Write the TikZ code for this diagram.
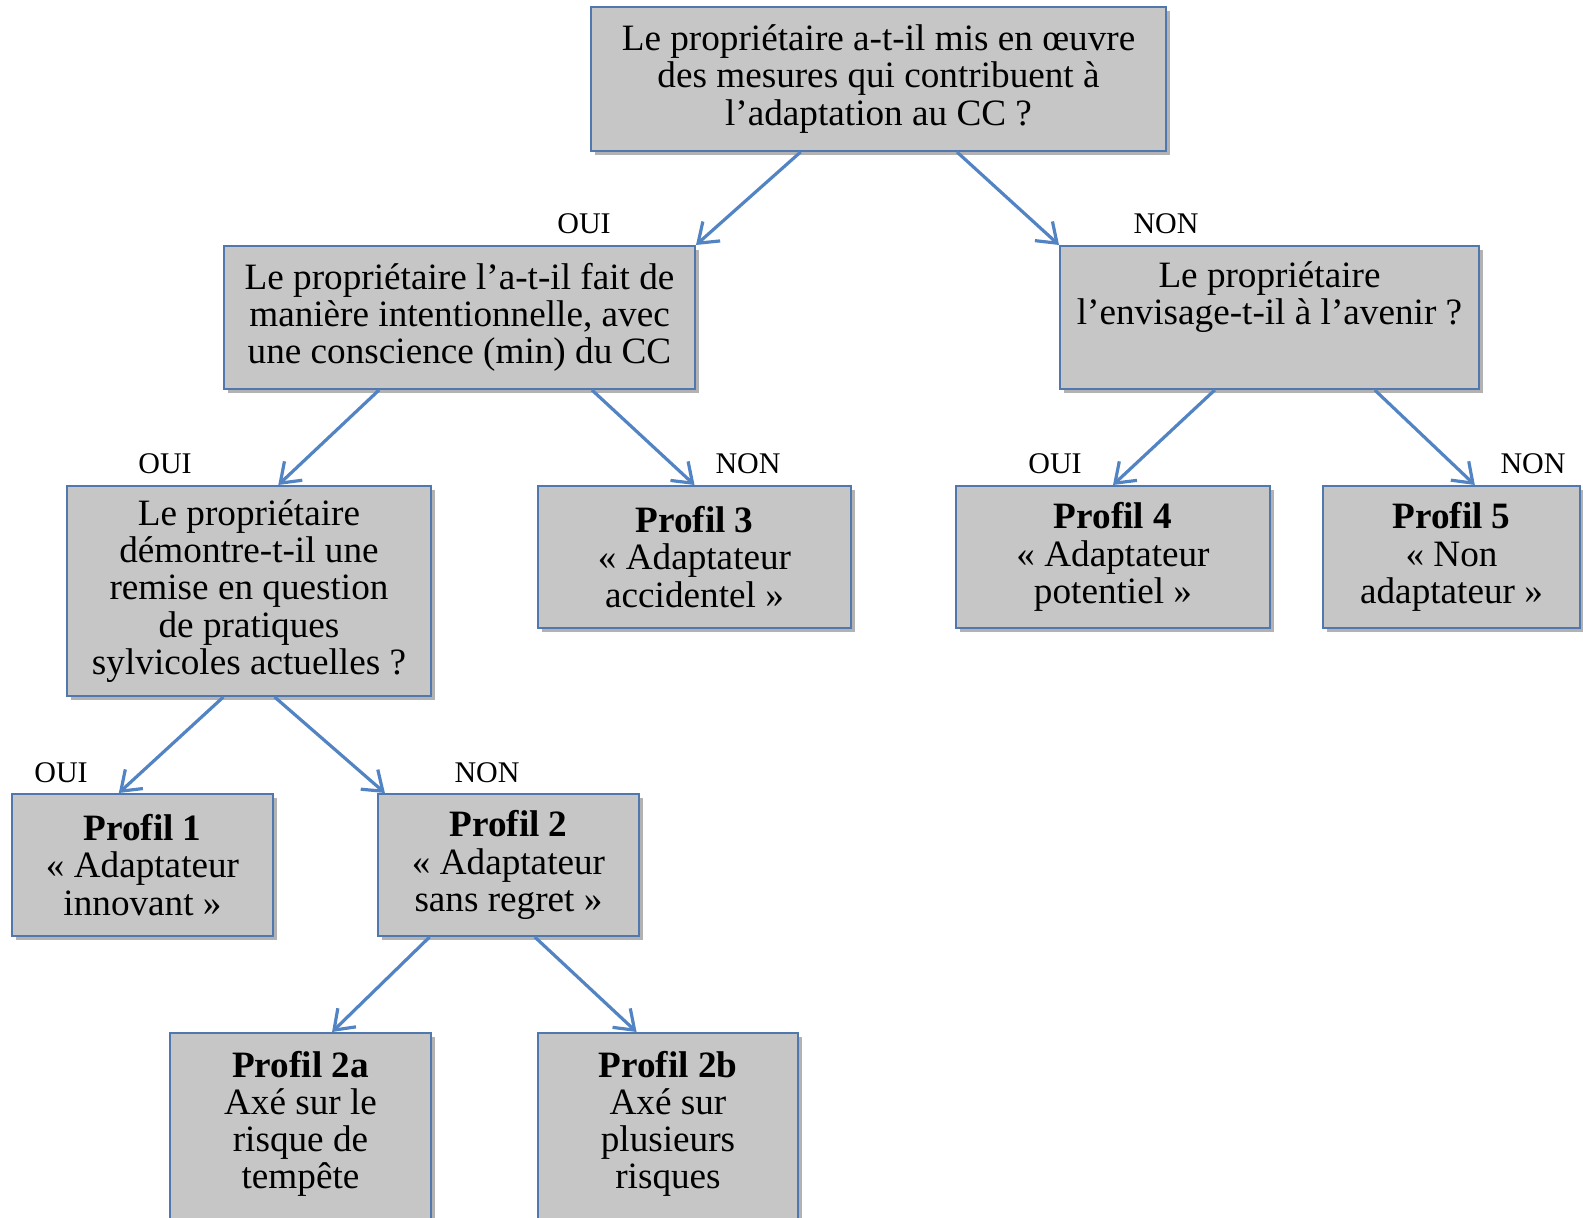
\documentclass[tikz,border=0pt]{standalone}
\usepackage{fontspec}
\setmainfont{Liberation Serif}
\usetikzlibrary{arrows.meta,calc,shadows}
\definecolor{boxgray}{HTML}{C6C6C6}
\definecolor{boxblue}{HTML}{5077AE}
\definecolor{arrblue}{HTML}{5284C4}

\begin{document}
\begin{tikzpicture}[x=0.5pt,y=-0.5pt,
 box/.style={draw=boxblue,fill=boxgray,line width=1pt,align=center,inner sep=0pt,
   font=\fontsize{18.6}{18.6}\selectfont,
   drop shadow={shadow xshift=1.8pt,shadow yshift=-1.8pt,opacity=.3,fill=black}},
 ans/.style={font=\fontsize{15}{15}\selectfont},
 a/.style={-{Straight Barb[length=9pt,width=13pt,line width=1.6pt]},draw=arrblue,line width=1.6pt}]
\useasboundingbox (0,0) rectangle (1583,1218);
% questions
\node[box,minimum width=287.5pt,minimum height=72pt] (root) at (878.5,79)
 {Le propriétaire a-t-il mis en œuvre\\des mesures qui contribuent à\\l’adaptation au CC~?};
\node[box,minimum width=235.5pt,minimum height=71.5pt] (intent) at (459.5,317.5)
 {Le propriétaire l’a-t-il fait de\\manière intentionnelle, avec\\une conscience (min) du CC};
\node[box,minimum width=209.5pt,minimum height=71.5pt] (future) at (1269.5,317.5)
 {Le propriétaire\\l’envisage-t-il à l’avenir~?\\\strut};
\node[box,minimum width=182pt,minimum height=105pt] (question) at (249,591)
 {Le propriétaire\\démontre-t-il une\\remise en question\\de pratiques\\sylvicoles actuelles~?};
% profils
\node[box,minimum width=156.5pt,minimum height=71pt] (pthree) at (694.5,557)
 {\textbf{Profil 3}\\«~Adaptateur\\accidentel~»};
\node[box,minimum width=157pt,minimum height=71pt] (pfour) at (1113,557)
 {\textbf{Profil 4}\\«~Adaptateur\\potentiel~»};
\node[box,minimum width=128.5pt,minimum height=71pt] (pfive) at (1451.5,557)
 {\textbf{Profil 5}\\«~Non\\adaptateur~»};
\node[box,minimum width=130.5pt,minimum height=71pt] (pone) at (142.5,865)
 {\textbf{Profil 1}\\«~Adaptateur\\innovant~»};
\node[box,minimum width=130.5pt,minimum height=71pt] (ptwo) at (508.5,865)
 {\textbf{Profil 2}\\«~Adaptateur\\sans regret~»};
\node[box,anchor=north,minimum width=130.5pt,minimum height=125pt] (ptwoa) at (300.5,1032)
 {\textbf{Profil 2a}\\Axé sur le\\risque de\\tempête\\[14pt]\strut};
\node[box,anchor=north,minimum width=130pt,minimum height=125pt] (ptwob) at (668,1032)
 {\textbf{Profil 2b}\\Axé sur\\plusieurs\\risques\\[14pt]\strut};
% answers
\node[ans] (oui1) at (584,224) {OUI};
\node[ans] (non1) at (1166,224) {NON};
\node[ans] (oui2) at (165,464) {OUI};
\node[ans] (non2) at (748,464) {NON};
\node[ans] (oui3) at (1055,464) {OUI};
\node[ans] (non3) at (1533,464) {NON};
\node[ans] (oui4) at (61,773) {OUI};
\node[ans] (non4) at (487,773) {NON};
% arrows
\draw[a] ($(root.south west)!.365!(root.south east)$) -- (intent.north east);
\draw[a] ($(root.south west)!.636!(root.south east)$) -- (future.north west);
\draw[a] ($(intent.south west)!.33!(intent.south east)$) -- ($(question.north west)!.58!(question.north east)$);
\draw[a] ($(intent.south west)!.78!(intent.south east)$) -- (pthree.north);
\draw[a] ($(future.south west)!.37!(future.south east)$) -- (pfour.north);
\draw[a] ($(future.south west)!.75!(future.south east)$) -- ($(pfive.north west)!.59!(pfive.north east)$);
\draw[a] ($(question.south west)!.43!(question.south east)$) -- ($(pone.north west)!.41!(pone.north east)$);
\draw[a] ($(question.south west)!.57!(question.south east)$) -- ($(ptwo.north west)!.03!(ptwo.north east)$);
\draw[a] ($(ptwo.south west)!.2!(ptwo.south east)$) -- ($(ptwoa.north west)!.62!(ptwoa.north east)$);
\draw[a] ($(ptwo.south west)!.6!(ptwo.south east)$) -- ($(ptwob.north west)!.38!(ptwob.north east)$);
\end{tikzpicture}
\end{document}
